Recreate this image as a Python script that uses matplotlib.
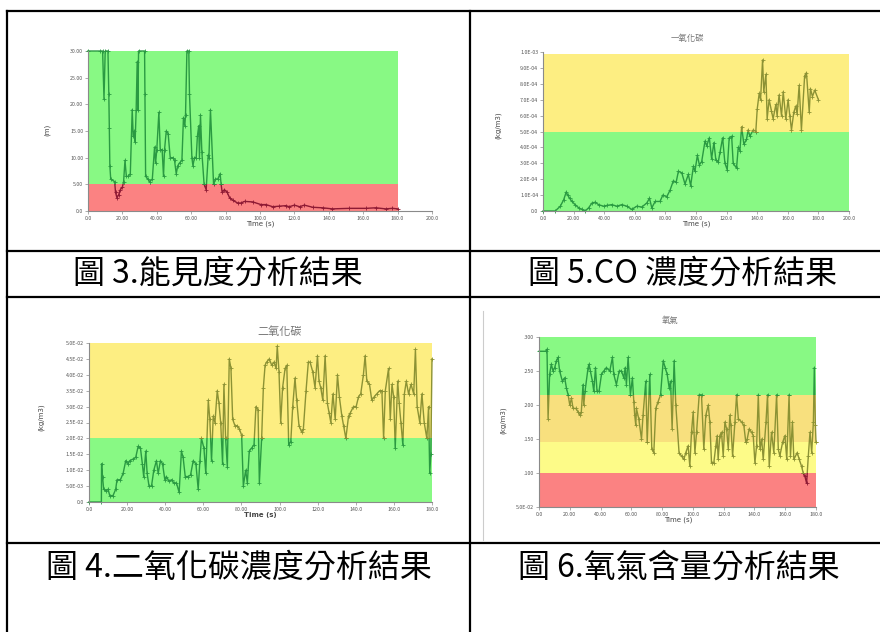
import numpy as np
import matplotlib
matplotlib.use('Agg')
import matplotlib.pyplot as plt
from matplotlib.patches import Rectangle
from matplotlib.lines import Line2D

plt.rcParams['font.family'] = ['Noto Sans CJK TC', 'DejaVu Sans']

# ---- data ----
# visibility (m)
t_vis = [0, 6.8, 8.5, 9.3, 10, 11.6, 12.1, 12.4, 12.7, 13.2, 15.5, 16, 16.8, 17.8, 18.8, 20, 20.7,
         21.5, 22.3, 23.4, 24.6, 25.7, 26.3, 27, 27.4, 28, 28.6, 29, 29.4, 32.9, 33.1, 33.5, 34.8,
         35.8, 37.4, 38.7, 39.3, 40, 41.2, 42, 43.1, 43.9, 44.5, 45.5, 46.6, 47.8, 49.4, 50.3, 51.3,
         52.2, 53.2, 54.6, 55.5, 56.3, 56.7, 57.5, 58.6, 59, 60.4, 61, 61.9, 62.9, 63.6, 64.4, 64.8,
         65.4, 66.2, 67.5, 68.7, 69.9, 70.3, 71.2, 73, 74.1, 75.5, 76.8, 77.4, 78, 79.3, 80.9, 82.3,
         84.2, 87, 89, 91, 95.8, 100.6, 103.5, 107.4, 111, 115, 117, 120, 123, 125.8, 130.6, 136.4,
         142, 152, 161.6, 167.4, 173, 177, 180]
vis = [30, 30, 30, 21, 30, 30, 22, 15.5, 8.5, 6, 5.5, 3.5, 2.5, 3, 4, 4.5, 5.5,
       9.5, 6.5, 6.5, 7, 19, 14, 15, 13, 19, 28, 19, 30, 30, 22, 6.5, 6,
       5.5, 6, 12, 9, 11.5, 18.5, 11.5, 11.5, 6.5, 11.5, 15, 14.5, 10, 10, 9.5, 7,
       8.5, 9, 9.5, 17.5, 16, 18, 30, 30, 22, 10, 8.5, 10, 10, 14, 16, 10,
       18, 11, 5, 4, 10.5, 10, 19, 5, 6, 6, 7, 5, 3.5, 4, 3.5, 2.5,
       2, 1.5, 1.5, 1.8, 1.7, 1.2, 1.2, 0.8, 0.9, 1.0, 0.8, 1.1, 0.8, 1.1, 0.7, 0.6,
       0.4, 0.5, 0.5, 0.6, 0.4, 0.5, 0.4]

# carbon monoxide (x1e-4 kg/m3)
t_co = [0, 8, 11.3, 13.5, 15.2, 16.1, 17.4, 18.9, 21, 23.3, 25.4, 27.6, 29.8, 32, 34.1, 36.3,
        39.6, 41.7, 45, 48.3, 51.5, 54.8, 58, 61.3, 64.6, 67.8, 69.6, 71.1, 73.3, 76.5, 78.3,
        80.9, 83, 85.2, 87, 88.5, 90.7, 92.8, 95, 96.5, 98.3, 99.3, 100.9, 102.2, 103.7, 105.9,
        107, 108.7, 110.2, 111.7, 113, 114.6, 115.7, 117.4, 118.9, 120.4, 121.7, 123.3, 124.3,
        126.5, 127.6, 128.7, 129.8, 131.3, 133, 134.1, 135.2, 137.4, 139.1, 140, 141.3, 142.2,
        143.5, 144.3, 145.7, 146.5, 147.8, 149.3, 150.4, 152.2, 153, 154.3, 155.9, 157, 158.7,
        160.2, 161.3, 162.4, 163.9, 165.2, 166.1, 167.4, 168.9, 171, 172.2, 174, 174.8, 176.1,
        177.6, 180]
co = [0, 0, 0.3, 0.7, 1.2, 1.0, 0.8, 0.6, 0.4, 0.2, 0.1, 0.0, 0.2, 0.5, 0.55, 0.4,
      0.3, 0.35, 0.4, 0.3, 0.4, 0.3, 0.1, 0.3, 0.25, 0.5, 0.8, 0.2, 0.6, 0.6, 1.0,
      0.9, 1.3, 1.9, 1.8, 2.5, 2.4, 1.7, 2.3, 1.6, 2.8, 2.5, 3.5, 2.9, 3.1, 4.4,
      4.1, 4.6, 3.3, 4.3, 3.2, 3.1, 3.7, 4.6, 3.0, 2.6, 4.6, 4.7, 3.0,
      2.7, 4.0, 3.8, 5.3, 4.2, 4.5, 5.1, 4.7, 5.1, 5.0, 6.4, 7.4, 7.0,
      9.5, 7.5, 8.6, 5.8, 7.0, 6.3, 5.8, 6.7, 6.0, 7.3, 6.0, 7.5, 5.8,
      7.0, 6.0, 5.1, 6.2, 6.6, 6.1, 7.9, 5.1, 8.5, 8.7, 6.2, 7.7, 7.2,
      7.6, 7.0]

# carbon dioxide (x1e-2 kg/m3)
t_co2 = [0, 6.5, 6.6, 7.1, 7.7, 8.8, 10, 10.9, 12.6, 14, 14.7, 16.5, 17.9, 19.3, 20.5, 21.4,
         23.1, 24.5, 25.8, 27, 28, 28.7, 29.8, 30.5, 31.5, 32.8, 34, 35.4, 36.3, 37.5, 38.6,
         39.8, 40.6, 42, 43.3, 44.5, 45.9, 47.3, 48.5, 49.4, 50.5, 52, 53.3, 54.7, 56.1, 57.3,
         58.2, 59, 60.3, 61.3, 62.6, 63.4, 64.3, 65.2, 66.1, 67.3, 68.2, 69.1, 70.1, 70.8, 71.7,
         72.6, 73.6, 74.5, 75.4, 76.6, 77.8, 78.9, 80.1, 81, 82.2, 83.1, 84.1, 85.4, 86.6, 87.6,
         88.7, 89.4, 90.6, 91.5, 92.4, 93.2, 94.6, 95.9, 97.1, 98.2, 98.8, 99.7, 100.6, 101.6,
         102.9, 103.8, 104.8, 105.9, 106.9, 108.1, 109, 110.2, 111.6, 112.5, 113.9, 115.1, 116,
         117.4, 118.6, 119.9, 120.7, 121.6, 122.7, 123.9, 125.1, 126, 126.9, 128, 129.2, 130.4,
         131.4, 132.7, 133.6, 134.8, 136.2, 137.1, 138.8, 140.2, 141.4, 142.6, 144, 144.9, 145.8,
         147.2, 148.4, 149.6, 151, 152.5, 153.7, 154.6, 155.5, 157.2, 158.1, 159, 159.9, 160.7,
         162, 162.8, 163.7, 164.7, 165.5, 166.5, 167.7, 169, 170.4, 171.3, 172.2, 173.6, 174.7,
         175.9, 177.3, 178.2, 178.8, 179.4, 180]
co2 = [0, 0, 1.2, 0.8, 0.4, 0.35, 0.4, 0.2, 0.2, 0.4, 0.7, 0.7, 0.9, 1.3, 1.2, 1.3,
       1.35, 1.4, 1.75, 1.7, 1.2, 0.8, 1.6, 0.9, 0.5, 0.5, 1.0, 1.3, 0.9, 1.3, 1.2,
       0.7, 0.8, 0.65, 0.7, 0.6, 0.6, 0.3, 1.6, 1.4, 0.8, 0.8, 0.85, 1.3, 1.2, 0.4,
       1.3, 2.0, 1.7, 0.9, 3.2, 2.6, 1.3, 2.7, 2.5, 3.5, 3.1, 2.5, 1.2, 3.7, 2.0,
       1.1, 4.5, 4.2, 2.6, 2.4, 2.4, 2.3, 2.1, 0.5, 1.0, 0.6, 1.6, 1.7, 1.8, 3.0,
       2.9, 0.6, 2.0, 3.6, 4.3, 4.4, 4.5, 4.3, 4.4, 4.2, 4.9, 4.1, 2.5, 3.6,
       4.2, 4.3, 1.8, 1.9, 3.0, 3.9, 3.2, 2.4, 2.2, 2.3, 3.5, 4.4, 4.4,
       4.1, 3.6, 4.6, 3.8, 3.6, 3.2, 4.6, 3.1, 2.8, 2.5, 3.4, 2.6, 4.0,
       3.3, 2.7, 2.4, 2.0, 2.7, 2.8, 3.0, 3.0, 3.3, 3.4, 4.0, 4.6, 3.8,
       3.7, 3.2, 3.3, 3.4, 3.5, 3.5, 2.0, 3.5, 4.2, 2.6, 3.7, 3.3, 1.7,
       3.8, 3.1, 2.5, 1.8, 3.4, 3.8, 3.4, 3.7, 3.4, 4.8, 3.0, 2.5, 3.4,
       2.5, 2.0, 3.0, 0.9, 1.5, 4.5]

# oxygen (kg/m3)
t_o2 = [0, 4.3, 5.2, 5.9, 6.9, 8, 9.1, 10.2, 11.3, 12.4, 13.4, 15.2, 16.7, 17.8, 18.9, 20, 21.1,
        22.1, 23.9, 25.4, 26.5, 27.5, 28.6, 29.1, 29.9, 31.9, 32.5, 33.4, 34.7, 35.6, 36.7, 37.7,
        39, 40.6, 42.1, 43.8, 46, 47.7, 48.6, 50.3, 52.1, 53.6, 55.1, 56, 56.8, 57.9, 59.4, 60.7,
        61.6, 62.2, 62.9, 63.3, 64.8, 66.6, 67.6, 69.4, 70.3, 72, 73.3, 74.6, 75.9, 77.4, 79,
        80.7, 82, 83.3, 84.6, 85.5, 86.5, 87.8, 88.9, 91, 92.6, 94.1, 95.4, 96.9, 98, 99.1, 100.2,
        101.3, 102.4, 104.1, 105.6, 107.1, 108.4, 110, 111, 112.1, 113.6, 114.9, 115.8, 116.4,
        117.5, 118.6, 119.7, 120.8, 121.9, 123, 124, 124.7, 125.8, 127.3, 128.4, 129.5, 131.6,
        133.1, 134.4, 135.3, 136.6, 138.1, 139.2, 140.3, 141.4, 142.5, 143.6, 144.7, 145.7, 147.5,
        148.5, 149.6, 151.1, 152.6, 154.4, 155.5, 156.5, 158.3, 159.8, 161, 162.5, 163.4, 164.7,
        165.6, 167.8, 169.1, 170.6, 171.7, 172.8, 173.9, 175, 176.1, 177.2, 178.3, 178.9, 179.6, 180]
o2 = [0.279, 0.279, 0.282, 0.18, 0.245, 0.26, 0.25, 0.255, 0.265, 0.27, 0.25, 0.235, 0.24, 0.225,
      0.215, 0.2, 0.21, 0.195, 0.195, 0.19, 0.185, 0.19, 0.23, 0.2, 0.22, 0.255, 0.26, 0.25, 0.235,
      0.22, 0.255, 0.22, 0.22, 0.245, 0.25, 0.255, 0.25, 0.27, 0.245, 0.23, 0.25, 0.25, 0.24,
      0.255, 0.23, 0.27, 0.215, 0.24, 0.205, 0.185, 0.17, 0.195, 0.18, 0.15, 0.185, 0.235, 0.145,
      0.245, 0.135, 0.13, 0.195, 0.205, 0.215, 0.265, 0.255, 0.245, 0.225, 0.235, 0.165, 0.265,
      0.2, 0.13, 0.125, 0.12, 0.13, 0.14, 0.11, 0.16, 0.19, 0.13, 0.16, 0.215, 0.215, 0.135,
      0.185, 0.2, 0.175, 0.115, 0.115, 0.14, 0.155, 0.12, 0.155, 0.16, 0.125, 0.175, 0.165,
      0.135, 0.185, 0.17, 0.125, 0.175, 0.215, 0.18, 0.175, 0.17, 0.145, 0.15, 0.165, 0.16,
      0.155, 0.115, 0.14, 0.215, 0.135, 0.15, 0.12, 0.175, 0.215, 0.11, 0.16, 0.13, 0.215,
      0.135, 0.125, 0.145, 0.155, 0.12, 0.215, 0.125, 0.175, 0.12, 0.13, 0.12, 0.11, 0.1,
      0.095, 0.085, 0.125, 0.16, 0.13, 0.175, 0.255, 0.17, 0.145]

captions = ['圖 3.能見度分析結果', '圖 5.CO 濃度分析結果', '圖 4.二氧化碳濃度分析結果', '圖 6.氧氣含量分析結果']

GREEN, RED, YELLOW, ORANGE = '#88f984', '#fb8282', '#fdee82', '#f8e07e'
YELLOW2 = '#fdfb88'
L_GREEN, L_RED, L_OLIVE = '#2a9a42', '#8e1a34', '#8c9234'

W, H = 880, 632
fig = plt.figure(figsize=(W / 100, H / 100), dpi=100)


def px_rect(l, t, r, b):
    return [l / W, 1 - b / H, (r - l) / W, (b - t) / H]


def ftext(x, y, s, **kw):
    fig.text(x / W, 1 - y / H, s, **kw)


def panel(rect, t, v, xmax, band_end, ylim, bands, yticks, ylabels, xticks, xlabels):
    ax = fig.add_axes(px_rect(*rect))
    ax.set_xlim(0, xmax)
    ax.set_ylim(*ylim)
    span = ylim[1] - ylim[0]
    for i, (y0, y1, fc, lc) in enumerate(bands):
        ax.add_patch(Rectangle((0, y0), band_end, y1 - y0, facecolor=fc, edgecolor='none', zorder=1))
        c0 = y0 if i > 0 else y0 - span
        c1 = y1 if i < len(bands) - 1 else y1 + span
        clip = Rectangle((-10, c0), band_end + 20, c1 - c0, transform=ax.transData)
        ln, = ax.plot(t, v, color=lc, lw=1.0, marker='+', ms=2.6, mew=0.6, zorder=2)
        ln.set_clip_path(clip)
    for s in ['top', 'right']:
        ax.spines[s].set_visible(False)
    for s in ['left', 'bottom']:
        ax.spines[s].set_color('#8a8a8a')
        ax.spines[s].set_linewidth(0.8)
        ax.spines[s].set_zorder(3)
    ax.set_facecolor('none')
    ax.set_yticks(yticks)
    ax.set_yticklabels(ylabels)
    ax.set_xticks(xticks)
    ax.set_xticklabels(xlabels)
    ax.tick_params(labelsize=3.8, colors='#8a8a8a', labelcolor='#555555', length=2, width=0.5, pad=1.5)
    return ax


# visibility
panel((88, 51, 432, 211), t_vis, vis, 200, 180, (0, 30),
      [(0, 5, RED, L_RED), (5, 30, GREEN, L_GREEN)],
      [0, 5, 10, 15, 20, 25, 30], ['0.0', '5.00', '10.00', '15.00', '20.00', '25.00', '30.00'],
      list(range(0, 201, 20)),
      ['0.0', '20.00', '40.00', '60.00', '80.00', '100.0', '120.0', '140.0', '160.0', '180.0', '200.0'])
ftext(260, 224, 'Time (s)', ha='center', va='center', fontsize=5, color='#444444', family='DejaVu Sans')
ftext(47, 130, '(m)', ha='center', va='center', fontsize=5, color='#444444', rotation=90, family='DejaVu Sans')

# carbon monoxide
co_kg = np.array(co) * 1e-4
panel((543, 52, 849, 211), t_co, co_kg, 200, 200, (0, 1e-3),
      [(0, 5e-4, GREEN, L_GREEN), (5e-4, 9.9e-4, YELLOW, L_OLIVE)],
      np.arange(0, 11) * 1e-4, ['0.0'] + ['%d.0E-04' % k for k in range(1, 10)] + ['1.0E-03'],
      list(range(0, 201, 20)),
      ['0.0', '20.00', '40.00', '60.00', '80.00', '100.0', '120.0', '140.0', '160.0', '180.0', '200.0'])
ftext(696, 224, 'Time (s)', ha='center', va='center', fontsize=5, color='#444444', family='DejaVu Sans')
ftext(498, 125, '(kg/m3)', ha='center', va='center', fontsize=5, color='#444444', rotation=90, family='DejaVu Sans')
ftext(687, 38, '一氧化碳', ha='center', va='center', fontsize=6, color='#777777')

# carbon dioxide
co2_kg = np.array(co2) * 1e-2
panel((89, 343, 432, 502), t_co2, co2_kg, 180, 180, (0, 0.05),
      [(0, 0.02, GREEN, L_GREEN), (0.02, 0.05, YELLOW, L_OLIVE)],
      np.arange(0, 11) * 5e-3,
      ['0.0', '5.0E-03', '1.0E-02', '1.5E-02', '2.0E-02', '2.5E-02', '3.0E-02', '3.5E-02',
       '4.0E-02', '4.5E-02', '5.0E-02'],
      list(range(0, 181, 20)),
      ['0.0', '20.00', '40.00', '60.00', '80.00', '100.0', '120.0', '140.0', '160.0', '180.0'])
ftext(260, 515, 'Time (s)', ha='center', va='center', fontsize=5, color='#444444',
      family='DejaVu Sans', weight='bold')
ftext(41, 417, '(kg/m3)', ha='center', va='center', fontsize=5, color='#444444', rotation=90, family='DejaVu Sans')
ftext(280, 332, '二氧化碳', ha='center', va='center', fontsize=8, color='#777777')

# oxygen
panel((539, 337, 816, 507), t_o2, o2, 180, 180, (0.05, 0.3),
      [(0.05, 0.1, RED, L_RED), (0.1, 0.145, YELLOW2, L_OLIVE), (0.145, 0.215, ORANGE, L_OLIVE),
       (0.215, 0.3, GREEN, L_GREEN)],
      [0.05, 0.1, 0.15, 0.2, 0.25, 0.3], ['5.0E-02', '.100', '.150', '.200', '.250', '.300'],
      list(range(0, 181, 20)),
      ['0.0', '20.00', '40.00', '60.00', '80.00', '100.0', '120.0', '140.0', '160.0', '180.0'])
ftext(678, 520, 'Time (s)', ha='center', va='center', fontsize=5, color='#444444', family='DejaVu Sans')
ftext(503, 420, '(kg/m3)', ha='center', va='center', fontsize=5, color='#444444', rotation=90, family='DejaVu Sans')
ftext(670, 320, '氧氣', ha='center', va='center', fontsize=6, color='#777777')
fig.add_artist(Line2D([483 / W, 483 / W], [1 - 311 / H, 1 - 540 / H], transform=fig.transFigure,
                      color='#cccccc', lw=0.8))

# table frame
def hline(y, x0=7, x1=880):
    fig.add_artist(Line2D([x0 / W, x1 / W], [1 - y / H, 1 - y / H], transform=fig.transFigure,
                          color='black', lw=1.6))


def vline(x, y0=11, y1=632):
    fig.add_artist(Line2D([x / W, x / W], [1 - y0 / H, 1 - y1 / H], transform=fig.transFigure,
                          color='black', lw=1.6))


for y in [11, 251, 297, 543]:
    hline(y)
vline(7)
vline(470)

# captions
ftext(218, 274, captions[0], ha='center', va='center', fontsize=23)
ftext(683, 274, captions[1], ha='center', va='center', fontsize=23)
ftext(239, 568, captions[2], ha='center', va='center', fontsize=23)
ftext(679, 568, captions[3], ha='center', va='center', fontsize=23)

fig.savefig('out.png', dpi=100, facecolor='white')
